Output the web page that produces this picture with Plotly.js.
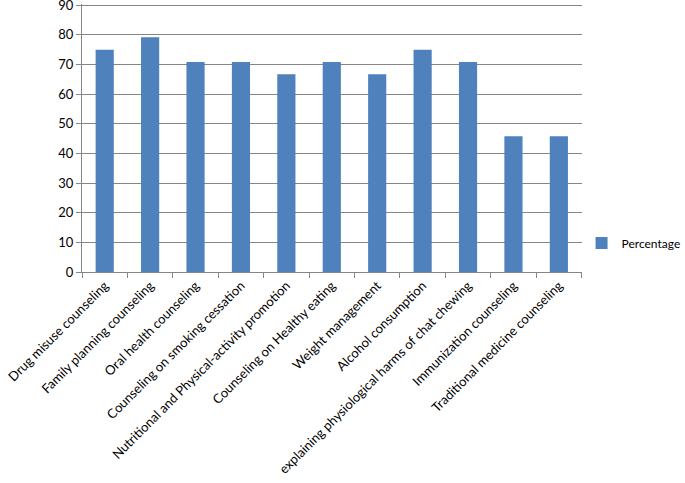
<!DOCTYPE html>
<html>
<head>
<meta charset="utf-8">
<script src="https://cdn.plot.ly/plotly-3.0.1.min.js"></script>
<style>html,body{margin:0;padding:0;background:#fff;}#chart{width:685px;height:483px;}</style>
</head>
<body>
<div id="chart"></div>
<script>
const categories = [
  "Drug misuse counseling",
  "Family planning counseling",
  "Oral health counseling",
  "Counseling on smoking cessation",
  "Nutritional and Physical-activity promotion",
  "Counseling on Healthy eating",
  "Weight management",
  "Alcohol consumption",
  "explaining physiological harms of chat chewing",
  "Immunization counseling",
  "Traditional medicine counseling"
];
const percentage = [75, 79.2, 70.8, 70.8, 66.7, 70.8, 66.7, 75, 70.8, 45.8, 45.8];
const yTicks = [0, 10, 20, 30, 40, 50, 60, 70, 80, 90];

const trace = {
  type: "bar",
  x: categories,
  y: percentage,
  name: "Percentage",
  marker: {color: "#4f81bd"},
  showlegend: true
};

const layout = {
  width: 685,
  height: 483,
  margin: {l: 82, r: 99, t: 4, b: 211, pad: 0},
  paper_bgcolor: "#ffffff",
  plot_bgcolor: "#ffffff",
  font: {family: "Lato, 'Open Sans', sans-serif", size: 13, color: "#000000"},
  bargap: 0.6,
  showlegend: true,
  legend: {
    xref: "container", yref: "container",
    x: 0.849, y: 0.497, xanchor: "left", yanchor: "middle",
    font: {size: 12, color: "#000000"},
    bgcolor: "rgba(0,0,0,0)",
    itemwidth: 30
  },
  xaxis: {
    type: "category",
    tickangle: -45,
    tickson: "boundaries",
    ticks: "outside",
    ticklen: 5,
    tickcolor: "#868686",
    showline: true,
    linecolor: "#868686",
    linewidth: 1,
    showgrid: false,
    automargin: false,
    tickfont: {size: 13, color: "#000000"}
  },
  yaxis: {
    range: [0, 90.4],
    tickvals: yTicks,
    ticktext: yTicks.map(String),
    ticks: "outside",
    ticklen: 5,
    tickcolor: "#868686",
    showline: true,
    linecolor: "#868686",
    linewidth: 1,
    showgrid: true,
    gridcolor: "#868686",
    gridwidth: 1,
    zeroline: false,
    automargin: false,
    ticklabeloverflow: "allow",
    tickfont: {size: 13, color: "#000000"}
  }
};

Plotly.newPlot("chart", [trace], layout, {displayModeBar: false, staticPlot: true});
</script>
</body>
</html>
